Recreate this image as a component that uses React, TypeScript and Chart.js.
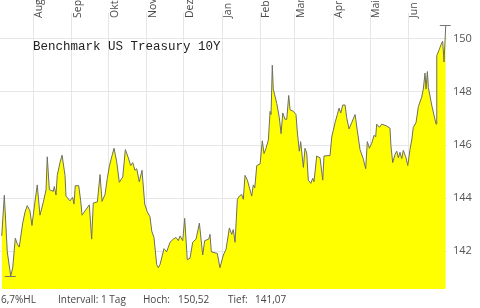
import React, { useEffect, useRef } from 'react';
import { Chart, registerables } from 'chart.js';

Chart.register(...registerables);

// Calendar-day offsets from the start of the period (day 0 ≈ 5 July)
const dayOffsets = [
  1.4, 3.5, 5.9, 8.7, 10.3, 12.4, 14.0, 15.6, 18.4, 20.3, 22.1, 24.3, 25.9, 28.1, 30.2, 32.4, 35.1, 37.3, 38.3, 40.0,
  43.2, 44.0, 45.4, 46.4, 48.6, 50.3, 52.7, 53.5, 56.7, 58.9, 60.0, 61.0, 63.8, 65.4, 66.5, 68.9, 72.4, 74.3, 75.6, 78.9,
  81.1, 82.7, 85.1, 87.0, 88.6, 90.8, 92.4, 94.6, 96.7, 99.5, 101.6, 104.0, 105.9, 107.6, 109.4, 110.8, 112.9, 115.1, 117.3, 119.4,
  121.6, 123.0, 124.8, 127.0, 128.3, 129.7, 132.9, 135.1, 137.8, 140.5, 142.7, 144.5, 145.9, 148.1, 149.7, 151.8, 154.0, 156.2, 158.9, 161.6,
  164.3, 165.9, 169.2, 170.2, 171.3, 176.1, 178.3, 181.0, 183.2, 185.9, 187.8, 189.1, 190.5, 192.4, 194.0, 195.9, 197.2, 198.6, 200.5, 204.0,
  205.3, 206.5, 208.1, 210.8, 212.6, 214.0, 215.6, 217.5, 218.9, 219.7, 220.7, 221.5, 224.3, 226.4, 227.8, 229.2, 231.0, 232.4, 234.0, 235.1,
  237.8, 239.9, 241.0, 242.6, 243.7, 245.9, 247.2, 248.6, 249.9, 251.9, 253.5, 254.5, 256.7, 259.4, 261.6, 262.6, 267.5, 268.9, 271.6, 273.4,
  274.8, 276.2, 277.8, 279.7, 281.0, 282.9, 285.1, 287.8, 289.6, 291.8, 294.5, 296.4, 297.7, 299.4, 301.3, 303.2, 304.5, 305.3, 307.5, 309.4,
  312.9, 316.1, 316.9, 318.3, 320.2, 321.6, 322.9, 324.2, 325.6, 326.9, 329.1, 330.5, 332.3, 333.7, 335.0, 337.2, 339.1, 341.8, 343.1, 344.5,
  345.3, 346.4, 347.2, 349.9, 353.4, 354.0, 356.1, 358.0, 358.8, 359.9, 361.3,
];

const prices = [
  142.58, 144.11, 141.98, 141.07, 141.38, 142.49, 142.28, 142.16, 143.06, 143.48, 143.72, 143.52, 142.97, 143.78, 144.50, 143.36, 143.85, 144.31, 145.56, 144.32,
  144.26, 144.44, 144.12, 144.86, 145.34, 145.62, 144.86, 144.08, 143.90, 144.03, 143.78, 144.47, 144.47, 143.90, 143.36, 143.52, 143.75, 142.46, 143.82, 143.86,
  144.89, 143.88, 144.14, 144.75, 145.20, 145.60, 145.88, 145.37, 144.60, 144.80, 145.83, 145.52, 145.23, 145.34, 145.05, 145.11, 144.62, 145.05, 143.78, 143.48,
  143.30, 142.76, 142.52, 141.50, 141.38, 141.50, 142.10, 141.98, 142.34, 142.46, 142.52, 142.40, 142.58, 142.40, 143.24, 141.68, 141.74, 142.34, 142.46, 143.06,
  141.86, 142.40, 142.46, 142.64, 141.98, 141.92, 141.38, 141.86, 142.07, 142.88, 142.64, 142.82, 142.34, 143.96, 144.08, 144.14, 143.96, 144.86, 144.68, 144.08,
  144.50, 144.39, 145.23, 145.29, 146.16, 145.68, 145.88, 146.19, 147.27, 147.15, 149.01, 148.11, 147.57, 147.03, 146.43, 147.21, 146.97, 146.97, 147.87, 147.33,
  147.27, 147.15, 146.49, 145.77, 146.13, 145.16, 145.88, 145.70, 144.68, 144.56, 144.75, 144.62, 145.59, 145.52, 144.68, 145.59, 145.61, 146.31, 146.85, 147.15,
  147.39, 147.21, 147.51, 147.51, 147.03, 146.61, 146.85, 147.15, 146.55, 145.83, 145.47, 145.11, 146.13, 145.88, 146.07, 146.37, 146.31, 146.79, 146.67, 146.79,
  146.73, 146.64, 145.95, 145.34, 145.65, 145.77, 145.52, 145.73, 145.49, 145.80, 145.52, 145.23, 145.83, 146.19, 146.67, 146.85, 147.45, 147.81, 148.11, 148.71,
  148.11, 148.77, 148.17, 147.51, 146.79, 149.37, 149.61, 149.85, 149.91, 149.13, 150.52,
];

const monthLabels = ['Aug', 'Sep', 'Okt', 'Nov', 'Dez', 'Jan', 'Feb', 'Mar', 'Apr', 'Mai', 'Jun'];
const monthStartDays = [27, 58, 88, 119, 149, 180, 211, 239, 270, 300, 331];
const yTickValues = [142, 144, 146, 148, 150];
const chartTitle = 'Benchmark US Treasury 10Y';
const footerTexts = ['6,7%HL', 'Intervall: 1 Tag', 'Hoch:', '150,52', 'Tief:', '141,07'];

const X_MIN = 0;
const X_MAX = 362.3;
const Y_MIN = 140.58;
const Y_MAX = 150.99;

const overlayPlugin = {
  id: 'overlay',
  afterDraw(chart: any) {
    const ctx = chart.ctx;
    const xs = chart.scales.x;
    const ys = chart.scales.y;
    ctx.save();

    // month labels (rotated) at top, right of each grid line
    ctx.fillStyle = '#4a4a4a';
    ctx.font = '10.5px "Open Sans"';
    ctx.textAlign = 'left';
    ctx.textBaseline = 'alphabetic';
    monthLabels.forEach((lab, i) => {
      const px = xs.getPixelForValue(monthStartDays[i]);
      ctx.save();
      ctx.translate(Math.round(px) + 9, 18);
      ctx.rotate(-Math.PI / 2);
      ctx.fillText(lab, 0, 0);
      ctx.restore();
    });

    // title
    ctx.fillStyle = '#222';
    ctx.font = '12.5px "Liberation Mono"';
    ctx.fillText(chartTitle, 33, 50);

    // high / low markers
    let hi = 0;
    let lo = 0;
    prices.forEach((p, i) => {
      if (p > prices[hi]) hi = i;
      if (p < prices[lo]) lo = i;
    });
    ctx.strokeStyle = '#777';
    ctx.lineWidth = 1;
    [hi, lo].forEach((idx) => {
      const px = xs.getPixelForValue(dayOffsets[idx]);
      const py = Math.round(ys.getPixelForValue(prices[idx])) + 0.5;
      ctx.beginPath();
      ctx.moveTo(px - 6, py);
      ctx.lineTo(px + 5, py);
      ctx.stroke();
    });

    // footer
    ctx.fillStyle = '#444';
    ctx.font = '10px "Open Sans"';
    const footerX = [1, 58, 143, 178, 228, 255];
    footerTexts.forEach((t, i) => ctx.fillText(t, footerX[i], 303));

    ctx.restore();
  },
};

export default function App() {
  const ref = useRef<HTMLCanvasElement | null>(null);

  useEffect(() => {
    document.body.style.margin = '0';
    const canvas = ref.current;
    if (!canvas) return;
    const chart = new Chart(canvas, {
      type: 'line',
      data: {
        datasets: [
          {
            data: dayOffsets.map((d, i) => ({ x: d, y: prices[i] })),
            borderColor: '#6e6e62',
            borderWidth: 1,
            backgroundColor: '#ffff00',
            fill: 'start',
            pointRadius: 0,
            tension: 0,
          },
        ],
      },
      options: {
        animation: false,
        responsive: false,
        layout: { padding: 0 },
        plugins: {
          legend: { display: false },
          tooltip: { enabled: false },
          title: { display: false },
        },
        scales: {
          x: {
            type: 'linear',
            min: X_MIN,
            max: X_MAX,
            border: { display: false },
            grid: { color: '#e6e6e6', drawTicks: false, lineWidth: 1 },
            ticks: { display: false },
            afterBuildTicks: (scale: any) => {
              scale.ticks = monthStartDays.map((v) => ({ value: v }));
            },
            afterFit: (scale: any) => {
              scale.height = 19;
            },
          },
          y: {
            position: 'right',
            min: Y_MIN,
            max: Y_MAX,
            border: { display: false },
            grid: { color: '#e6e6e6', drawTicks: false, lineWidth: 1 },
            ticks: {
              color: '#555',
              padding: 6,
              font: { family: 'Open Sans', size: 11 },
              callback: (v: any) => String(v),
            },
            afterBuildTicks: (scale: any) => {
              scale.ticks = yTickValues.map((v) => ({ value: v }));
            },
            afterFit: (scale: any) => {
              scale.width = 33;
            },
          },
        },
      },
      plugins: [overlayPlugin],
    });
    return () => chart.destroy();
  }, []);

  return <canvas ref={ref} width={480} height={308} style={{ display: 'block' }} />;
}
